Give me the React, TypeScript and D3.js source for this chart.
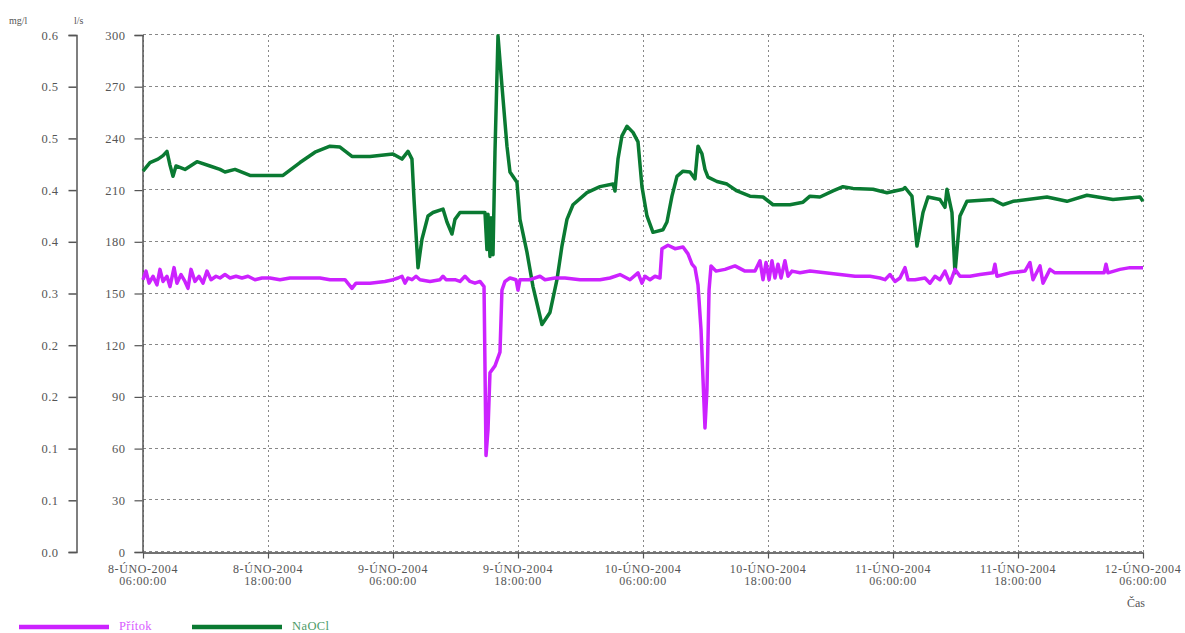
import React, { useEffect, useRef } from "react";
import * as d3 from "d3";

// hours after 8-ÚNO-2004 06:00:00
const xTickHours = [0, 12, 24, 36, 48, 60, 72, 84, 96];
const xTickDates = ["8-ÚNO-2004", "8-ÚNO-2004", "9-ÚNO-2004", "9-ÚNO-2004", "10-ÚNO-2004", "10-ÚNO-2004", "11-ÚNO-2004", "11-ÚNO-2004", "12-ÚNO-2004"];
const xTickTimes = ["06:00:00", "18:00:00", "06:00:00", "18:00:00", "06:00:00", "18:00:00", "06:00:00", "18:00:00", "06:00:00"];

const leftTicks = [0, 0.06, 0.12, 0.18, 0.24, 0.3, 0.36, 0.42, 0.48, 0.54, 0.6];
const rightTicks = [0, 30, 60, 90, 120, 150, 180, 210, 240, 270, 300];

// NaOCl [mg/l]
const naoclHours = [0, 0.67, 1.44, 1.92, 2.3, 2.59, 2.88, 3.17, 4.03, 5.18, 6.43, 7.39, 7.87, 8.83, 10.27, 13.44, 15.07, 16.51, 17.95, 18.91, 20.06, 21.79, 24.0, 24.86, 25.44, 25.82, 26.02, 26.4, 26.78, 27.36, 27.84, 28.8, 29.18, 29.66, 29.95, 30.43, 32.83, 33.02, 33.12, 33.31, 33.41, 33.6, 33.79, 34.08, 34.46, 34.94, 35.23, 35.9, 36.19, 36.86, 37.44, 38.3, 39.07, 39.74, 40.22, 40.7, 41.28, 42.62, 43.87, 45.12, 45.31, 45.6, 45.98, 46.46, 47.04, 47.52, 47.9, 48.38, 48.96, 49.92, 50.3, 50.78, 51.26, 51.84, 52.51, 52.99, 53.28, 53.66, 53.95, 54.24, 55.1, 56.06, 57.02, 58.27, 59.52, 60.48, 62.11, 63.36, 64.03, 64.99, 66.24, 67.2, 68.16, 70.08, 71.42, 72.96, 73.15, 73.82, 74.3, 74.88, 75.36, 76.51, 76.99, 77.18, 77.66, 77.95, 78.43, 79.1, 81.6, 82.56, 83.52, 86.78, 88.7, 90.62, 93.12, 95.71, 96];
const naoclValues = [0.442, 0.452, 0.456, 0.46, 0.465, 0.449, 0.436, 0.448, 0.444, 0.453, 0.448, 0.444, 0.441, 0.444, 0.437, 0.437, 0.452, 0.464, 0.471, 0.47, 0.459, 0.459, 0.462, 0.456, 0.465, 0.456, 0.409, 0.33, 0.363, 0.39, 0.394, 0.398, 0.383, 0.369, 0.386, 0.394, 0.394, 0.351, 0.392, 0.343, 0.388, 0.345, 0.464, 0.599, 0.541, 0.471, 0.441, 0.429, 0.386, 0.348, 0.308, 0.264, 0.278, 0.316, 0.355, 0.386, 0.403, 0.417, 0.424, 0.427, 0.419, 0.456, 0.483, 0.494, 0.487, 0.476, 0.424, 0.39, 0.371, 0.374, 0.383, 0.413, 0.436, 0.442, 0.441, 0.433, 0.471, 0.462, 0.444, 0.435, 0.43, 0.427, 0.419, 0.413, 0.412, 0.403, 0.403, 0.406, 0.413, 0.412, 0.419, 0.424, 0.422, 0.421, 0.417, 0.421, 0.423, 0.413, 0.355, 0.394, 0.412, 0.409, 0.4, 0.421, 0.394, 0.324, 0.39, 0.407, 0.409, 0.403, 0.407, 0.412, 0.407, 0.414, 0.409, 0.412, 0.407];

// Přítok [l/s]
const pritokHours = [0, 0.29, 0.58, 0.96, 1.34, 1.63, 1.92, 2.3, 2.59, 2.98, 3.26, 3.65, 4.03, 4.32, 4.61, 4.99, 5.38, 5.76, 6.14, 6.53, 7.01, 7.39, 7.87, 8.35, 8.93, 9.5, 10.08, 10.75, 11.42, 12.19, 13.15, 14.11, 15.07, 16.03, 16.99, 17.95, 19.39, 20.06, 20.45, 21.79, 23.23, 24.0, 24.48, 24.86, 25.15, 25.44, 25.82, 26.21, 26.59, 27.55, 28.51, 28.8, 29.09, 29.95, 30.43, 30.91, 31.39, 31.87, 32.35, 32.74, 32.93, 33.12, 33.31, 33.79, 34.27, 34.46, 34.75, 35.23, 35.81, 36.0, 36.19, 37.15, 38.11, 38.59, 39.55, 40.51, 41.95, 43.87, 44.83, 45.79, 46.75, 47.52, 47.9, 48.19, 48.67, 49.15, 49.63, 49.82, 50.4, 51.07, 51.84, 52.32, 52.7, 52.99, 53.28, 53.57, 53.95, 54.14, 54.34, 54.53, 55.01, 55.87, 56.83, 57.79, 58.75, 59.23, 59.52, 59.81, 60.1, 60.38, 60.67, 60.96, 61.25, 61.63, 61.92, 62.3, 63.07, 64.03, 65.47, 66.91, 68.35, 69.79, 70.75, 71.23, 71.71, 72.19, 72.67, 73.15, 73.44, 74.11, 75.07, 75.55, 76.03, 76.51, 76.99, 77.47, 77.95, 78.43, 79.39, 80.35, 81.6, 81.79, 81.98, 83.23, 84.67, 85.15, 85.44, 86.11, 86.4, 87.07, 87.55, 88.99, 90.91, 92.26, 92.45, 92.64, 93.79, 94.75, 96];
const pritokValues = [158, 163, 156, 160, 155, 164, 157, 160, 154, 165, 156, 161, 157, 153, 164, 157, 160, 156, 163, 158, 160, 159, 161, 159, 160, 159, 160, 158, 159, 159, 158, 159, 159, 159, 159, 158, 158, 153, 156, 156, 157, 158, 159, 160, 156, 159, 158, 160, 158, 157, 158, 160, 158, 158, 157, 160, 157, 156, 157, 154, 56, 71, 104, 108, 116, 152, 157, 159, 158, 152, 158, 158, 160, 158, 159, 159, 158, 158, 159, 161, 158, 162, 156, 160, 158, 160, 159, 176, 178, 176, 177, 173, 167, 165, 155, 129, 72, 94, 152, 166, 163, 164, 166, 163, 163, 169, 158, 168, 158, 169, 159, 167, 159, 169, 160, 163, 162, 163, 162, 161, 160, 160, 159, 158, 161, 157, 159, 165, 158, 158, 159, 156, 160, 158, 163, 156, 164, 160, 160, 161, 162, 167, 160, 162, 163, 168, 158, 166, 156, 164, 162, 162, 162, 162, 167, 162, 164, 165, 165];

const pritokColor = "#cc22ff";
const naoclColor = "#0a7a32";

const Chart = () => {
  const svgRef = useRef<SVGSVGElement>(null);

  useEffect(() => {
    const width = 1185;
    const height = 633;
    const left = 143, right = 1143, top = 35, bottom = 552;
    const axisCol = "#555";
    const font = "'Liberation Serif', 'Times New Roman', 'DejaVu Serif', serif";

    const svg = d3.select(svgRef.current)
      .attr("width", width)
      .attr("height", height)
      .style("font-family", font);
    svg.selectAll("*").remove();

    const x = d3.scaleLinear().domain([0, 96]).range([left, right]);
    const yFlow = d3.scaleLinear().domain([0, 300]).range([bottom, top]);
    const yConc = d3.scaleLinear().domain([0, 0.6]).range([bottom, top]);

    // grid
    const grid = svg.append("g").attr("stroke", "#888").attr("stroke-width", 1);
    rightTicks.forEach(t => {
      grid.append("line")
        .attr("x1", left).attr("x2", right)
        .attr("y1", Math.round(yFlow(t)) - 0.5).attr("y2", Math.round(yFlow(t)) - 0.5)
        .attr("stroke-dasharray", "3,3");
    });
    xTickHours.forEach(h => {
      grid.append("line")
        .attr("x1", Math.round(x(h)) + 0.5).attr("x2", Math.round(x(h)) + 0.5)
        .attr("y1", top).attr("y2", bottom)
        .attr("stroke-dasharray", "2,3");
    });

    // left axis mg/l
    const gl = svg.append("g").attr("transform", "translate(76.5,0)");
    gl.call(d3.axisLeft(yConc).tickValues(leftTicks).tickFormat(d3.format(".1f")).tickSize(8).tickPadding(10));
    gl.attr("font-family", null);
    gl.select(".domain").attr("stroke", axisCol).attr("stroke-width", 1.5);
    gl.selectAll(".tick line").attr("stroke", axisCol).attr("stroke-width", 1.5);
    gl.selectAll(".tick text").attr("fill", "#555").attr("font-size", 12.5).attr("letter-spacing", 0.5);

    // right axis l/s (drawn at plot left)
    const minor = d3.range(0, 301, 6).filter(v => v % 30 !== 0);
    const gr = svg.append("g").attr("transform", `translate(${left - 0.5},0)`);
    gr.call(d3.axisLeft(yFlow).tickValues(minor).tickFormat(() => "").tickSize(4).tickSizeOuter(0));
    gr.call(d3.axisLeft(yFlow).tickValues(rightTicks).tickSize(8).tickPadding(9));
    gr.attr("font-family", null);
    gr.selectAll(".domain").attr("stroke", axisCol).attr("stroke-width", 1.5);
    gr.selectAll(".tick line").attr("stroke", axisCol).attr("stroke-width", 1.2);
    gr.selectAll(".tick text").attr("fill", "#555").attr("font-size", 12.5).attr("letter-spacing", 0.5);

    // x axis
    const gx = svg.append("g").attr("transform", `translate(0,${bottom + 0.5})`);
    gx.call(d3.axisBottom(x).tickValues(xTickHours).tickFormat(() => "").tickSize(6).tickSizeOuter(0));
    gx.select(".domain").attr("stroke", "#444").attr("stroke-width", 1.5);
    gx.selectAll(".tick line").attr("stroke", axisCol).attr("stroke-width", 1.2);
    xTickHours.forEach((h, i) => {
      const t = svg.append("text")
        .attr("x", x(h)).attr("text-anchor", "middle")
        .attr("font-size", 12).attr("letter-spacing", 0.6).attr("fill", "#555");
      t.append("tspan").attr("x", x(h)).attr("y", 573).text(xTickDates[i]);
      t.append("tspan").attr("x", x(h)).attr("y", 585).text(xTickTimes[i]);
    });

    // unit labels
    svg.append("text").attr("x", 9).attr("y", 24).attr("font-size", 10).attr("fill", "#555").text("mg/l");
    svg.append("text").attr("x", 74).attr("y", 24).attr("font-size", 10).attr("fill", "#555").text("l/s");
    svg.append("text").attr("x", 1136).attr("y", 607).attr("text-anchor", "middle").attr("font-size", 12).attr("fill", "#555").text("Čas");

    // series
    const naocl = naoclHours.map((h, i) => [h, naoclValues[i]] as [number, number]);
    const pritok = pritokHours.map((h, i) => [h, pritokValues[i]] as [number, number]);

    svg.append("path")
      .datum(naocl)
      .attr("fill", "none")
      .attr("stroke", naoclColor)
      .attr("stroke-width", 3.5)
      .attr("stroke-linejoin", "round")
      .attr("d", d3.line<[number, number]>().x(d => x(d[0])).y(d => yConc(d[1])));

    svg.append("path")
      .datum(pritok)
      .attr("fill", "none")
      .attr("stroke", pritokColor)
      .attr("stroke-width", 3.5)
      .attr("stroke-linejoin", "round")
      .attr("d", d3.line<[number, number]>().x(d => x(d[0])).y(d => yFlow(d[1])));

    // legend
    const legend = [
      { name: "Přítok", color: pritokColor, x0: 19 },
      { name: "NaOCl", color: naoclColor, x0: 192 },
    ];
    legend.forEach(l => {
      svg.append("line")
        .attr("x1", l.x0).attr("x2", l.x0 + 90)
        .attr("y1", 627).attr("y2", 627)
        .attr("stroke", l.color).attr("stroke-width", 4.5);
      svg.append("text")
        .attr("x", l.x0 + 100).attr("y", 630)
        .attr("font-size", 12.5).attr("letter-spacing", 0.4)
        .attr("fill", l.color).attr("opacity", 0.75)
        .text(l.name);
    });
  }, []);

  return <svg ref={svgRef} style={{ position: "absolute", left: 0, top: 0 }}></svg>;
};

export default function App() {
  return <Chart />;
}
